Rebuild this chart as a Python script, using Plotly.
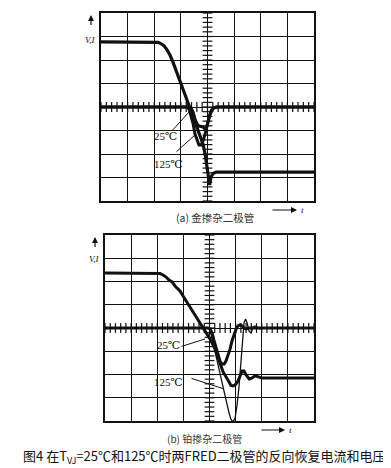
import numpy as np
import plotly.graph_objects as go

W, H = 391, 468

# ---------- data (time in divisions, amplitude in divisions) ----------
# Panel (a) gold-doped diode
a_v_t = [0, 2.03, 2.14, 2.25, 2.37, 2.48, 2.59, 2.70, 2.82, 2.93, 3.04, 3.16, 3.27, 3.38,
         3.49, 3.61, 3.72, 3.83, 3.91, 3.98, 4.04, 4.08, 4.13, 4.21, 4.32, 8]
a_v_y = [2.77, 2.77, 2.75, 2.70, 2.60, 2.43, 2.21, 1.92, 1.53, 1.19, 0.85, 0.51, 0.17, -0.17,
         -0.51, -0.85, -1.19, -1.57, -2.00, -2.60, -3.19, -3.32, -2.98, -2.83, -2.77, -2.77]

a_i25_t = [0, 3.31, 3.38, 3.46, 3.53, 3.61, 3.68, 3.76, 3.83, 3.91, 3.96, 4.02, 4.09, 4.17, 4.24, 4.36, 8]
a_i25_y = [0, 0, -0.04, -0.21, -0.51, -0.72, -0.81, -0.83, -0.85, -0.94, -0.89, -0.64, -0.34, -0.13, -0.04, 0, 0]

a_i125_t = [0, 3.23, 3.31, 3.38, 3.46, 3.53, 3.61, 3.68, 3.76, 3.83, 3.91, 3.98, 4.06, 4.13, 4.21, 4.32, 8]
a_i125_y = [0, 0, -0.09, -0.34, -0.72, -1.15, -1.45, -1.62, -1.62, -1.45, -1.15, -0.77, -0.43, -0.17, -0.04, 0, 0]

# Panel (b) platinum-doped diode
b_v_t = [0, 1.99, 2.11, 2.22, 2.34, 2.45, 2.57, 2.68, 2.87, 3.06, 3.25, 3.44, 3.64, 3.83, 4.02,
         4.21, 4.36, 4.52, 4.75, 4.82, 4.90, 4.98, 5.09, 5.17, 5.25, 5.32, 5.40, 5.52, 5.63,
         5.74, 5.86, 6.01, 8]
b_v_y = [2.37, 2.37, 2.34, 2.28, 2.19, 2.06, 1.98, 1.81, 1.59, 1.25, 0.90, 0.56, 0.22, -0.13, -0.47,
         -0.90, -1.42, -1.89, -2.32, -2.47, -2.49, -2.45, -2.28, -2.06, -1.85, -1.85, -2.02, -2.19,
         -2.15, -2.06, -2.11, -2.15, -2.15]

b_i25_t = [0, 3.94, 4.02, 4.10, 4.17, 4.25, 4.33, 4.40, 4.48, 4.56, 4.63, 4.71, 4.79, 4.86, 4.94,
           5.02, 5.09, 5.17, 5.25, 5.32, 5.40, 5.51, 8]
b_i25_y = [0, 0, -0.04, -0.22, -0.52, -0.86, -1.16, -1.42, -1.55, -1.55, -1.42, -1.20, -0.90,
           -0.56, -0.26, -0.04, 0.09, 0.13, 0.09, 0, -0.04, 0, 0]

b_i125_t = [0, 3.98, 4.06, 4.17, 4.29, 4.40, 4.52, 4.63, 4.75, 4.82, 4.90, 4.98, 5.05, 5.13,
            5.21, 5.26, 5.32, 5.38, 5.44, 5.51, 5.59, 5.67, 5.74, 5.82, 5.93, 6.05, 8]
b_i125_y = [0, 0, -0.26, -0.77, -1.33, -1.94, -2.54, -3.14, -3.66, -3.92, -4.04, -3.87, -3.35,
            -2.54, -1.42, -0.47, 0.22, 0.39, 0.22, -0.13, -0.22, 0.04, 0.09, 0.04, -0.04, 0, 0]

labels_a = ["25℃", "125℃"]
labels_b = ["25℃", "125℃"]
caption_a = "(a) 金掺杂二极管"
caption_b = "(b) 铂掺杂二极管"
title = "图4 在T<sub>VJ</sub>=25℃和125℃时两FRED二极管的反向恢复电流和电压"
axis_label = "V,I"
time_label = "t"

# ---------- figure ----------
fig = go.Figure()
INK = "#111111"

def add_curve(t, y, xa, ya, width):
    fig.add_trace(go.Scatter(x=t, y=y, mode="lines", xaxis=xa, yaxis=ya,
                             line=dict(color=INK, width=width), hoverinfo="skip",
                             showlegend=False))

# center tick marks (graticule)
tx = np.arange(0, 8.001, 0.2)
ty = np.arange(-4, 4.001, 0.2)
for xa, ya in (("x", "y"), ("x2", "y2")):
    fig.add_trace(go.Scatter(x=tx, y=np.zeros_like(tx), mode="markers", xaxis=xa, yaxis=ya,
                             marker=dict(symbol="line-ns", size=7, line=dict(color=INK, width=1.2)),
                             hoverinfo="skip", showlegend=False))
    fig.add_trace(go.Scatter(x=np.full_like(ty, 4.0), y=ty, mode="markers", xaxis=xa, yaxis=ya,
                             marker=dict(symbol="line-ew", size=7, line=dict(color=INK, width=1.2)),
                             hoverinfo="skip", showlegend=False))

add_curve(a_i25_t, a_i25_y, "x", "y", 3)
add_curve(a_i125_t, a_i125_y, "x", "y", 3)
add_curve(a_v_t, a_v_y, "x", "y", 3.2)

add_curve(b_i125_t, b_i125_y, "x2", "y2", 1.3)
add_curve(b_i25_t, b_i25_y, "x2", "y2", 3)
add_curve(b_v_t, b_v_y, "x2", "y2", 3)

def px(x):
    return x / W

def py(y):
    return 1 - y / H

ax_common = dict(range=[0, 8], dtick=1, tick0=0, showgrid=True, gridcolor=INK, gridwidth=1.3,
                 showticklabels=False, ticks="", zeroline=False, showline=True, linecolor=INK,
                 linewidth=2, mirror=True, fixedrange=True)
ay_common = dict(range=[-4, 4], dtick=1, tick0=0, showgrid=True, gridcolor=INK, gridwidth=1.3,
                 showticklabels=False, ticks="", zeroline=False, showline=True, linecolor=INK,
                 linewidth=2, mirror=True, fixedrange=True)

fig.update_layout(
    width=W, height=H, margin=dict(l=0, r=0, t=0, b=0),
    paper_bgcolor="white", plot_bgcolor="white",
    xaxis=dict(domain=[px(93), px(306)], anchor="y", **ax_common),
    yaxis=dict(domain=[py(193), py(5)], anchor="x", **ay_common),
    xaxis2=dict(domain=[px(97), px(306)], anchor="y2", **ax_common),
    yaxis2=dict(domain=[py(413), py(227)], anchor="x2", **ay_common),
)

serif = "Liberation Serif, DejaVu Serif, serif"
cjk = "Noto Sans CJK SC, sans-serif"
ann = []

def text(x, y, s, size, family, color=INK, xanchor="center"):
    ann.append(dict(x=px(x), y=py(y), xref="paper", yref="paper", text=s, showarrow=False,
                    font=dict(size=size, family=family, color=color), xanchor=xanchor,
                    yanchor="middle"))

def arrow(x0, y0, x1, y1, head=2, width=1.2):
    ann.append(dict(x=px(x1), y=py(y1), xref="paper", yref="paper", ax=x0 - x1, ay=y0 - y1,
                    text=" ", showarrow=True, arrowhead=head, font=dict(size=1),
                    arrowsize=1, arrowwidth=width, arrowcolor=INK))

# axis arrows and labels
arrow(83, 19, 83, 7)
text(82, 32, "<i>%s</i>" % axis_label, 9, serif)
arrow(263, 202, 289, 202)
text(294, 202, "<i>%s</i>" % time_label, 9, serif)

arrow(87, 241, 87, 229)
text(86, 251, "<i>%s</i>" % axis_label, 9, serif)
arrow(252, 422, 277, 422)
text(282, 422, "<i>%s</i>" % time_label, 9, serif)

# captions
text(207, 210, caption_a, 10.5, cjk, color="#333333")
text(196, 430, caption_b, 10, cjk, color="#333333")
text(196, 448, title, 13, cjk)

# curve labels with leader lines (data-anchored)
def leader(xa, ya, x, y, axpx, aypx):
    ann.append(dict(x=x, y=y, xref=xa, yref=ya, ax=axpx, ay=aypx, text=" ", showarrow=True,
                    arrowhead=0, arrowwidth=1, arrowcolor=INK, font=dict(size=1)))

leader("x", "y", 3.34, -0.17, -19, 21)
leader("x", "y", 3.53, -1.19, -20, 18)
leader("x2", "y2", 3.83, -0.47, -25, 8)
leader("x2", "y2", 4.555, -2.62, -34, -11)

text(157, 128, labels_a[0], 11, serif)
text(160, 156, labels_a[1], 11, serif)
text(160, 337, labels_b[0], 11, serif)
text(160, 374, labels_b[1], 11, serif)

fig.update_layout(annotations=ann)
fig.write_html("out.html")
